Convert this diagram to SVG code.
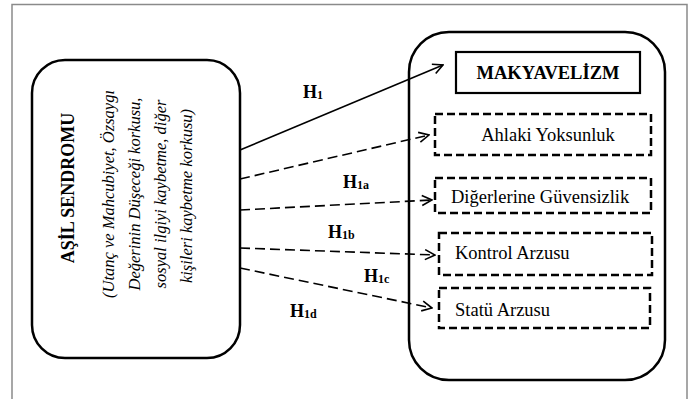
<svg xmlns="http://www.w3.org/2000/svg" width="691" height="399" viewBox="0 0 691 399">
<defs>
<style>
.frame{fill:none;stroke:#8a8a8a;stroke-width:1.5}
.rbox{fill:#fff;stroke:#000;stroke-width:2.5}
.sbox{fill:none;stroke:#000;stroke-width:2.2}
.dbox{fill:none;stroke:#000;stroke-width:2.5;stroke-dasharray:8 4}
.t{font-family:"Liberation Serif","Times New Roman",serif;fill:#000}
.b{font-weight:bold}
.i{font-style:italic}
.lbl{font-family:"Liberation Serif","Times New Roman",serif;font-weight:bold;font-size:18px}
.sub{font-size:12px}
.ln{fill:none;stroke:#000;stroke-width:1.6}
.dash{stroke-dasharray:10 5}
</style>
<marker id="ah" viewBox="0 0 12 12" refX="11" refY="6" markerWidth="12" markerHeight="12" markerUnits="userSpaceOnUse" orient="auto">
<path d="M1,1 L11,6 L1,11" fill="none" stroke="#000" stroke-width="1.6"/>
</marker>
</defs>
<rect x="0" y="0" width="691" height="399" fill="#fff"/>
<path class="frame" d="M12,400 V4.5 H687 V400"/>

<g id="asil-sendromu">
<rect class="rbox" x="32" y="60" width="208" height="298" rx="33"/>
<text class="t b" font-size="18" text-anchor="middle" transform="translate(74,188) rotate(-90)">AŞİL SENDROMU</text>
<g class="t i" font-size="16.5" text-anchor="middle">
<text transform="translate(114,194) rotate(-90)">(Utanç ve Mahcubiyet, Özsaygı</text>
<text transform="translate(140,194) rotate(-90)">Değerinin Düşeceği korkusu,</text>
<text transform="translate(166,194) rotate(-90)">sosyal ilgiyi kaybetme, diğer</text>
<text transform="translate(192,196) rotate(-90)">kişileri kaybetme korkusu)</text>
</g>
</g>

<g id="makyavelizm-group">
<rect class="rbox" x="409" y="32" width="256" height="348" rx="40"/>
</g>

<g id="makyavelizm">
<rect class="sbox" x="456" y="52" width="184" height="41"/>
<text class="t b" font-size="18.5" x="548" y="79" text-anchor="middle">MAKYAVELİZM</text>
</g>

<g id="ahlaki-yoksunluk">
<rect class="dbox" x="435" y="114" width="216" height="41"/>
<text class="t" font-size="18.5" x="548" y="141" text-anchor="middle">Ahlaki Yoksunluk</text>
</g>

<g id="digerlerine-guvensizlik">
<rect class="dbox" x="435" y="178" width="216" height="35"/>
<text class="t" font-size="18.5" x="451" y="203">Diğerlerine Güvensizlik</text>
</g>

<g id="kontrol-arzusu">
<rect class="dbox" x="439" y="233" width="213" height="42"/>
<text class="t" font-size="18.5" x="455" y="259">Kontrol Arzusu</text>
</g>

<g id="statu-arzusu">
<rect class="dbox" x="439" y="288" width="211" height="40"/>
<text class="t" font-size="18.5" x="455" y="316">Statü Arzusu</text>
</g>

<g id="connectors">
<line class="ln" x1="240" y1="150" x2="443" y2="65" marker-end="url(#ah)"/>
<line class="ln dash" x1="240" y1="179" x2="429" y2="135" marker-end="url(#ah)"/>
<line class="ln dash" x1="240" y1="210" x2="432" y2="200" marker-end="url(#ah)"/>
<line class="ln dash" x1="240" y1="248" x2="435" y2="255" marker-end="url(#ah)"/>
<line class="ln dash" x1="240" y1="268" x2="432" y2="308" marker-end="url(#ah)"/>
<text class="lbl" x="303" y="98">H<tspan class="sub" dy="1">1</tspan></text>
<text class="lbl" x="343" y="188">H<tspan class="sub" dy="1">1a</tspan></text>
<text class="lbl" x="328" y="238">H<tspan class="sub" dy="1">1b</tspan></text>
<text class="lbl" x="364" y="282">H<tspan class="sub" dy="1">1c</tspan></text>
<text class="lbl" x="290" y="317">H<tspan class="sub" dy="1">1d</tspan></text>
</g>
</svg>
